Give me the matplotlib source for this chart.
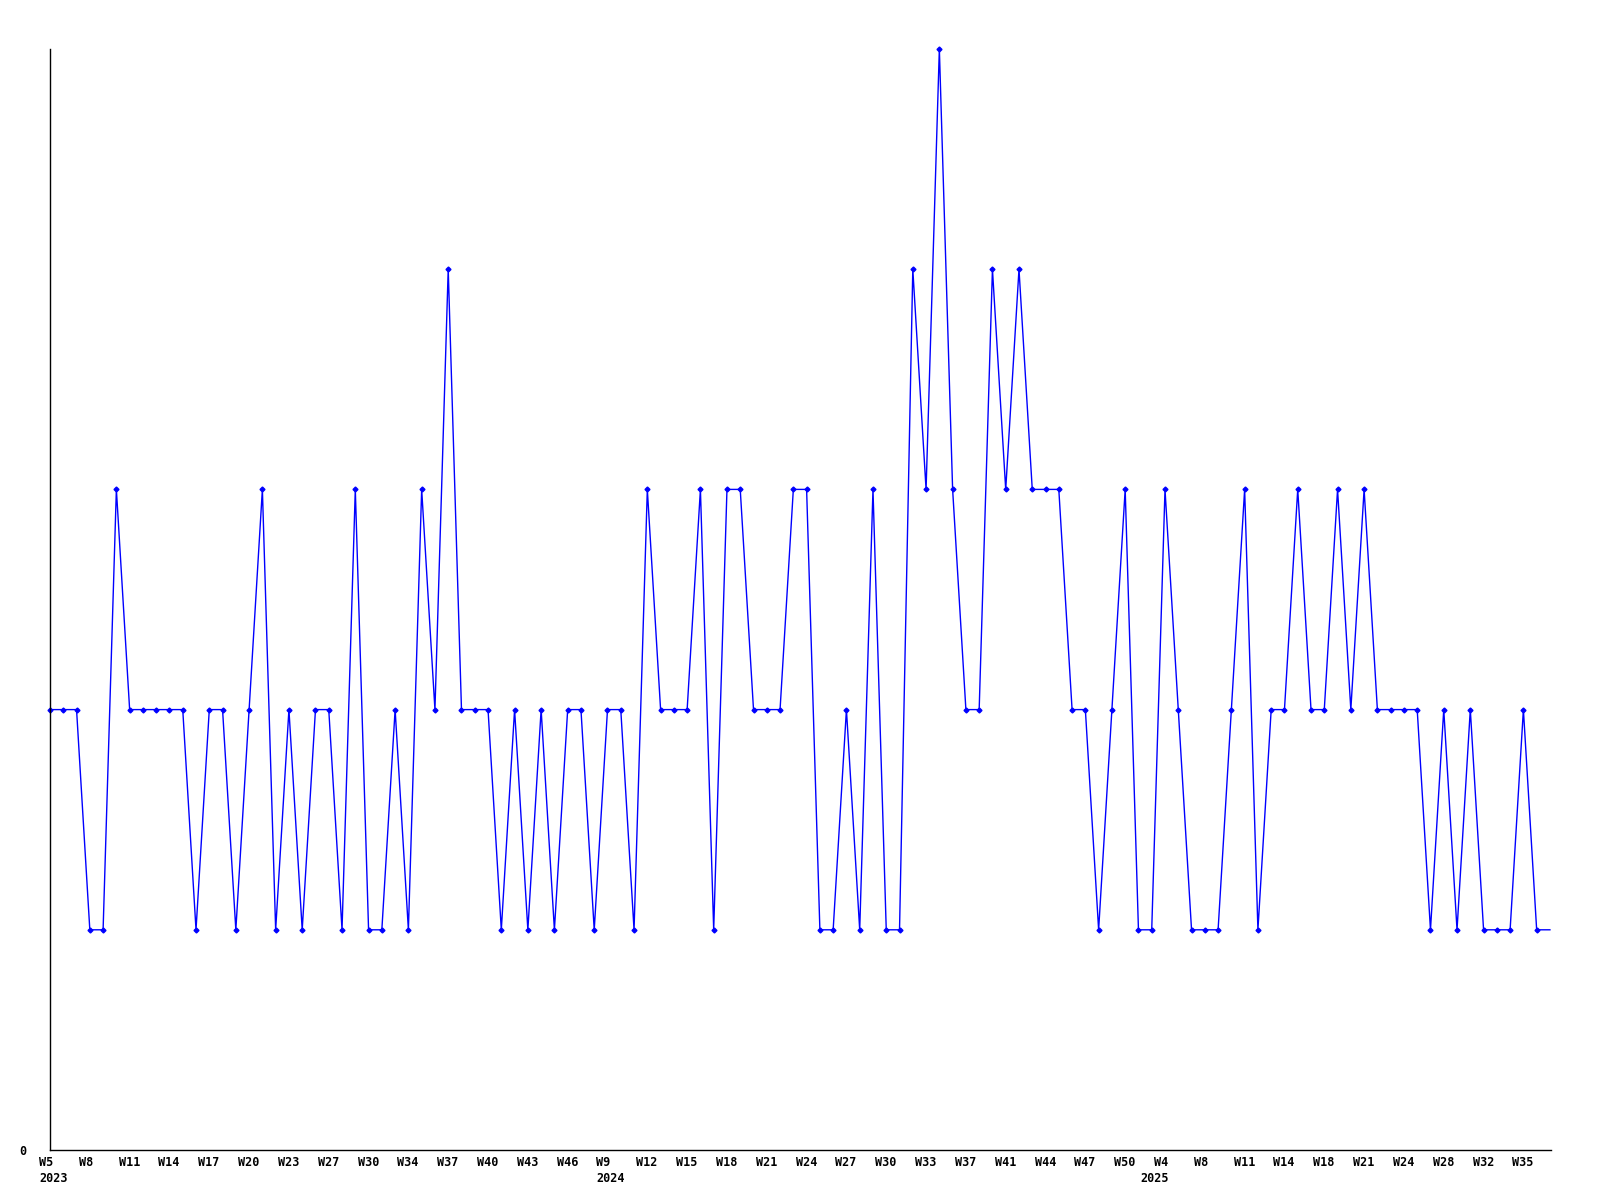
import matplotlib
matplotlib.use("Agg")
import matplotlib.pyplot as plt
from matplotlib.transforms import ScaledTranslation

# weekly values, one per point (last one runs off the right edge, no marker)
values = [2, 2, 2, 1, 1, 3, 2, 2, 2, 2,
          2, 1, 2, 2, 1, 2, 3, 1, 2, 1,
          2, 2, 1, 3, 1, 1, 2, 1, 3, 2,
          4, 2, 2, 2, 1, 2, 1, 2, 1, 2,
          2, 1, 2, 2, 1, 3, 2, 2, 2, 3,
          1, 3, 3, 2, 2, 2, 3, 3, 1, 1,
          2, 1, 3, 1, 1, 4, 3, 5, 3, 2,
          2, 4, 3, 4, 3, 3, 3, 2, 2, 1,
          2, 3, 1, 1, 3, 2, 1, 1, 1, 2,
          3, 1, 2, 2, 3, 2, 2, 3, 2, 3,
          2, 2, 2, 2, 1, 2, 1, 2, 1, 1,
          1, 2, 1, 1]

# a week label on every third point
week_labels = ['W5', 'W8', 'W11', 'W14', 'W17', 'W20', 'W23', 'W27', 'W30', 'W34',
               'W37', 'W40', 'W43', 'W46', 'W9', 'W12', 'W15', 'W18', 'W21', 'W24',
               'W27', 'W30', 'W33', 'W37', 'W41', 'W44', 'W47', 'W50', 'W4', 'W8',
               'W11', 'W14', 'W18', 'W21', 'W24', 'W28', 'W32', 'W35']
label_step = 3

years = ['2023', '2024', '2025']
year_start = [0, 42, 83]

fig = plt.figure(figsize=(16, 12), dpi=100)
ax = fig.add_axes([50 / 1600, 50 / 1200, 1501 / 1600, 1101 / 1200])

x = list(range(len(values)))
ax.plot(x, values, color='#0000ff', linewidth=1.0, marker='D', markersize=2.5,
        markevery=list(range(len(values) - 1)), clip_on=False)

ax.set_xlim(0, 113.08)
ax.set_ylim(0, 5)

for side in ['top', 'right']:
    ax.spines[side].set_visible(False)
for side in ['left', 'bottom']:
    ax.spines[side].set_color('black')
    ax.spines[side].set_linewidth(1.0)

ax.set_xticks([])
ax.set_yticks([0])
ax.set_yticklabels(['0'], fontfamily='DejaVu Sans Mono', fontweight='bold', fontsize=8.5)
ax.tick_params(axis='y', length=0, pad=17)

font = dict(fontfamily='DejaVu Sans Mono', fontweight='bold', fontsize=8.5,
            ha='left', va='top', color='black')
xt = ax.get_xaxis_transform()
week_off = xt + ScaledTranslation(-11 / 100, -6 / 100, fig.dpi_scale_trans)
year_off = xt + ScaledTranslation(-11 / 100, -22 / 100, fig.dpi_scale_trans)

for k, lab in enumerate(week_labels):
    ax.text(k * label_step, 0, lab, transform=week_off, **font)
for pos, yr in zip(year_start, years):
    ax.text(pos, 0, yr, transform=year_off, **font)

fig.savefig('out.png', dpi=100, facecolor='white')
